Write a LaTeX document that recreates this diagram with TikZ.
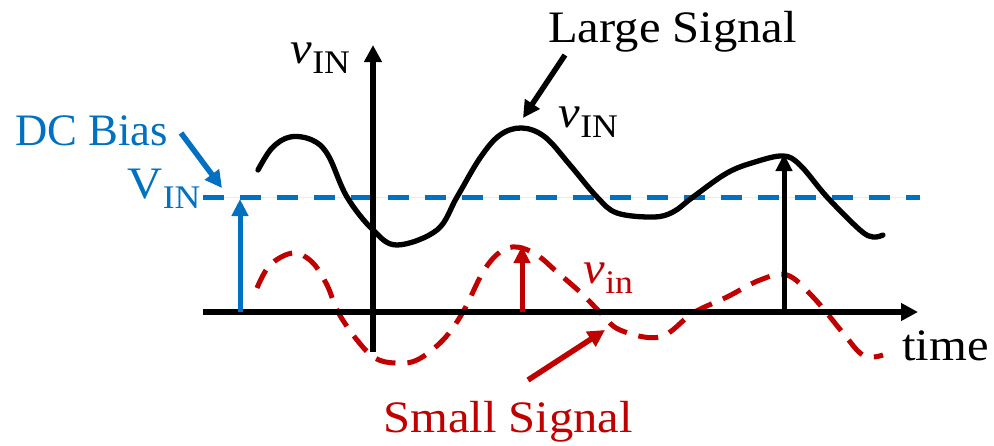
\documentclass[tikz,border=0pt]{standalone}
\usepackage{fontspec}
\setmainfont{Liberation Serif}[FakeStretch=1.08]
\usetikzlibrary{arrows.meta}
\definecolor{dcblue}{HTML}{0070C0}
\definecolor{sigred}{HTML}{C00000}
\newcommand\sublab[2]{#1\kern0.5pt\raisebox{-10pt}{\fontsize{33}{33}\selectfont #2}}
\begin{document}
\begin{tikzpicture}[x=1pt,y=-1pt,
  lbl/.style={inner sep=0pt, anchor=base west, font=\fontsize{45}{50}\selectfont},
  axis/.style={line width=5.2pt, -{Triangle[length=17pt,width=17pt]}},
  pointer/.style={line width=5.5pt, -{Triangle[length=17pt,width=17pt]}},
  vec/.style={line width=5pt, -{Triangle[length=17pt,width=16pt]}},
  large/.style={line width=5.3pt, line join=round, line cap=round},
  small/.style={sigred, line width=5pt, dash pattern=on 20pt off 12pt},
  bias/.style={dcblue, line width=5pt, dash pattern=on 21pt off 16pt}]
\useasboundingbox (0,0) rectangle (994,445);
% DC bias level
\coordinate (bS) at (203,197);
\coordinate (bE) at (920,197);
\draw[gray!15, line width=0.8pt] (bS) -- (bE);
\draw[bias] (bS) -- (bE);
% small signal
\draw[small] plot[smooth, tension=0.6] coordinates {(257,288) (270,265) (293,253) (312,262) (327,285) (338,312) (357,340) (375,358) (395,363) (417,360) (443,340) (463,312) (483,272) (500,252) (517,247) (537,255) (557,272) (580,292) (600,312) (620,330) (660,337) (693,313) (727,297) (760,280) (787,275) (813,297) (843,333) (860,353) (872,357) (883,355)};
% large signal
\draw[large] plot[smooth, tension=0.6] coordinates {(258,170) (272,148) (290,137) (312,140) (328,155) (347,197) (373,230) (397,245) (437,230) (457,197) (480,158) (500,135) (522,128) (545,137) (570,165) (597,197) (617,213) (653,217) (673,212) (693,197) (727,173) (755,162) (783,156) (800,165) (827,197) (860,230) (873,237) (883,235)};
% axes
\coordinate (tS) at (203,312);
\coordinate (tE) at (918,312);
\coordinate (vS) at (373,352);
\coordinate (vE) at (373,45);
\draw[axis] (tS) -- (tE);
\draw[axis] (vS) -- (vE);
% vectors
\coordinate (dcB) at (240,312);
\coordinate (dcT) at (240,199);
\draw[vec, dcblue] (dcB) -- (dcT);
\coordinate (smB) at (522,312);
\coordinate (smT) at (522,246);
\draw[vec, sigred] (smB) -- (smT);
\coordinate (lgB) at (784,312);
\coordinate (lgT) at (784,154);
\draw[vec] (lgB) -- (lgT);
% labels
\node[lbl, dcblue] (dc) at (15,145) {\scalebox{0.92}[1]{DC Bias}};
\node[lbl, dcblue] (vin) at (127,198) {\sublab{V}{IN}};
\node[lbl] (yl) at (290,63) {\sublab{\textit{v}}{IN}};
\node[lbl] (ls) at (548,42) {Large Signal};
\node[lbl] (vl) at (558,127) {\sublab{\textit{v}}{IN}};
\node[lbl, sigred] (vs) at (583,283) {\sublab{\textit{v}}{in}};
\node[lbl] (tm) at (902,360) {time};
\node[lbl, sigred] (ss) at (383,432) {Small Signal};
% pointers
\coordinate (dcP1) at (181,133);
\coordinate (dcP2) at (222,188);
\draw[pointer, dcblue] (dcP1) -- (dcP2);
\coordinate (lsP1) at (565,55);
\coordinate (lsP2) at (523,118);
\draw[pointer] (lsP1) -- (lsP2);
\coordinate (ssP1) at (528,380);
\coordinate (ssP2) at (605,330);
\draw[pointer, sigred] (ssP1) -- (ssP2);
\end{tikzpicture}
\end{document}
